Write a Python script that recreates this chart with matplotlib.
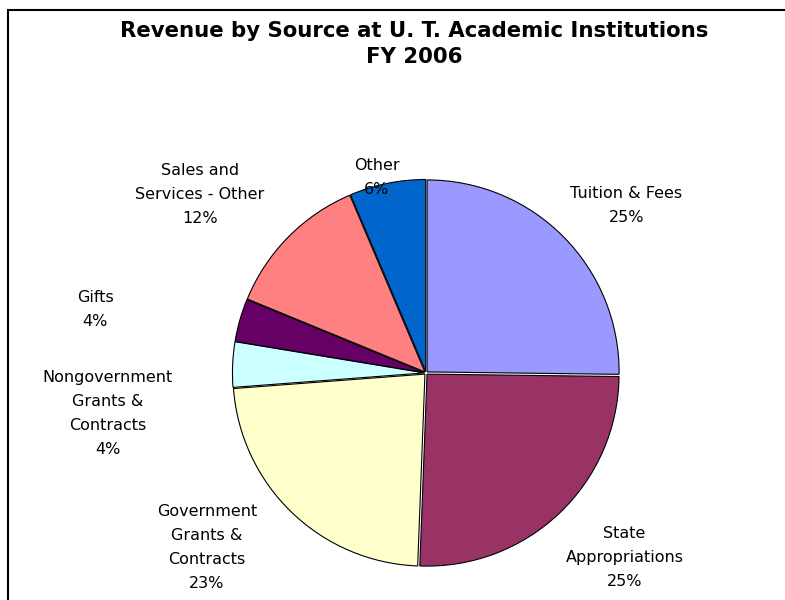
import numpy as np
import matplotlib
matplotlib.use("Agg")
import matplotlib.pyplot as plt
from matplotlib.patches import Rectangle

sources = ["Tuition & Fees", "State\nAppropriations", "Government\nGrants &\nContracts",
           "Nongovernment\nGrants &\nContracts", "Gifts", "Sales and\nServices - Other", "Other"]
shares = [25.2, 25.4, 23.2, 3.8, 3.6, 12.4, 6.4]
colors = ["#9999FF", "#993366", "#FFFFCC", "#CCFFFF", "#660066", "#FF8080", "#0066CC"]

# label layout (clockwise shift from wedge middle, distance in radii)
label_shift = [4.7, -3.6, 7.5, -9.7, -5.0, -6.4, -2.6]
label_dist = [1.36, 1.41, 1.46, 1.67, 1.755, 1.50, 1.05]

fig = plt.figure(figsize=(7.85, 6), dpi=100)
ax = fig.add_axes([0, 0, 1, 1])

wedges, _ = ax.pie(shares, colors=colors, startangle=90, counterclock=False,
                   explode=[0.008] * len(shares),
                   wedgeprops=dict(edgecolor="black", linewidth=0.8))

total = sum(shares)
for w, name, val, sh, d in zip(wedges, sources, shares, label_shift, label_dist):
    mid = (w.theta1 + w.theta2) / 2 - sh
    x, y = d * np.cos(np.radians(mid)), d * np.sin(np.radians(mid))
    pct = round(val / total * 100)
    ax.text(x, y, f"{name}\n{pct}%", ha="center", va="center", fontsize=11.5,
            multialignment="center", linespacing=1.75, color="black")

# pie center at (426, 373) px, radius 192 px
r = 192.0
ax.set_xlim(-426 / r, (785 - 426) / r)
ax.set_ylim(-(600 - 373) / r, 373 / r)
ax.set_aspect("auto")
ax.axis("off")

fig.text(414 / 785, 1 - 44 / 600, "Revenue by Source at U. T. Academic Institutions\nFY 2006",
         ha="center", va="center", fontsize=15.3, fontweight="bold", linespacing=1.33)

fig.patches.append(Rectangle((8 / 785, -0.1), 1.2, 1.1 - 10 / 600, transform=fig.transFigure,
                             fill=False, edgecolor="black", linewidth=1.5))

fig.savefig("out.png", dpi=100)
